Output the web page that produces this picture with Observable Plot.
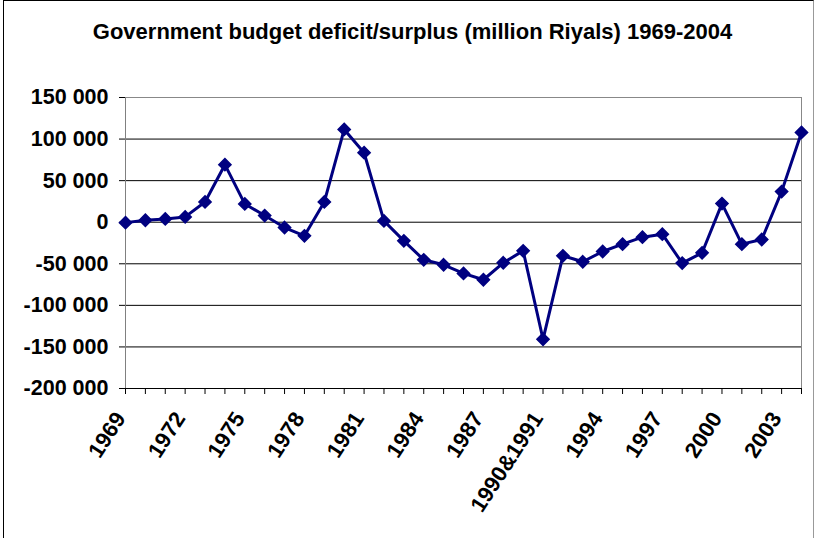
<!DOCTYPE html>
<html><head><meta charset="utf-8">
<script src="https://cdn.jsdelivr.net/npm/d3@7"></script>
<script src="https://cdn.jsdelivr.net/npm/@observablehq/plot@0.6"></script>
<style>
body{margin:0;background:#fff;}
#wrap{position:relative;width:816px;height:538px;overflow:hidden;font-family:"Liberation Sans",Arial,sans-serif;}
#frame{position:absolute;left:3px;top:0px;width:809px;height:560px;border-left:1px solid #000;border-top:1px solid #000;border-right:1px solid #999;}
#title{position:absolute;left:0;width:825px;top:19px;line-height:26px;text-align:center;font-weight:bold;font-size:22px;color:#000;}
#chart{position:absolute;left:0;top:0;}
</style></head>
<body><div id="wrap"><div id="frame"></div><div id="title">Government budget deficit/surplus (million Riyals) 1969-2004</div><div id="chart"></div></div>
<script>
const categories = ["1969","1970","1971","1972","1973","1974","1975","1976","1977","1978","1979","1980","1981","1982","1983","1984","1985","1986","1987","1988","1989","1990&1991","1992","1993","1994","1995","1996","1997","1998","1999","2000","2001","2002","2003","2004"];
const values = [-500,2400,4000,6400,24400,69200,22000,8000,-6400,-16400,24400,111600,83600,1600,-22400,-45200,-51200,-61600,-69200,-48800,-34400,-140800,-40400,-47600,-35200,-26400,-18000,-14400,-49200,-36800,22400,-26400,-20800,36800,108000];
const xLabels = ["1969","1972","1975","1978","1981","1984","1987","1990&1991","1994","1997","2000","2003"];
const yTicks = [150000,100000,50000,0,-50000,-100000,-150000,-200000];

const data = categories.map((c,i)=>({cat:c, value:values[i]}));
const fmt = d => (d<0?"-":"") + d3.format(",")(Math.abs(d)).replace(/,/g," ");
const chart = Plot.plot({
  width:816, height:538, marginLeft:125, marginRight:15, marginTop:97, marginBottom:150,
  style:{fontFamily:"'Liberation Sans', Arial, sans-serif", background:"transparent", overflow:"visible", color:"#000"},
  x:{type:"point", domain:categories, padding:0, axis:null},
  y:{domain:[-200000,150000], axis:null},
  marks:[
    Plot.ruleY(yTicks.slice(1,-1), {stroke:"#000", strokeWidth:1}),
    Plot.ruleY([150000], {stroke:"#888"}),
    Plot.ruleX([categories[categories.length-1]], {stroke:"#888"}),
    Plot.axisY({ticks:yTicks, tickFormat:fmt, tickSize:6, tickPadding:11, fontSize:21.5, fontWeight:"bold", label:null, stroke:"#000"}),
    Plot.ruleX([categories[0]], {stroke:"#808080"}),
    Plot.ruleY([-200000], {stroke:"#000"}),
    Plot.axisX({ticks:categories, tickFormat: () => "", tickSize:6, label:null, stroke:"#000"}),
    Plot.axisX({ticks:xLabels, tickSize:0, tickPadding:26, tickRotate:-57, dx:-5, fontSize:22, fontWeight:"bold", label:null}),
    Plot.line(data,{x:"cat", y:"value", stroke:"#000080", strokeWidth:3}),
    Plot.dot(data,{x:"cat", y:"value", symbol:"diamond2", r:5.5, fill:"#000080", stroke:"#000080"})
  ]
});
document.getElementById("chart").appendChild(chart);
</script>
</body></html>
